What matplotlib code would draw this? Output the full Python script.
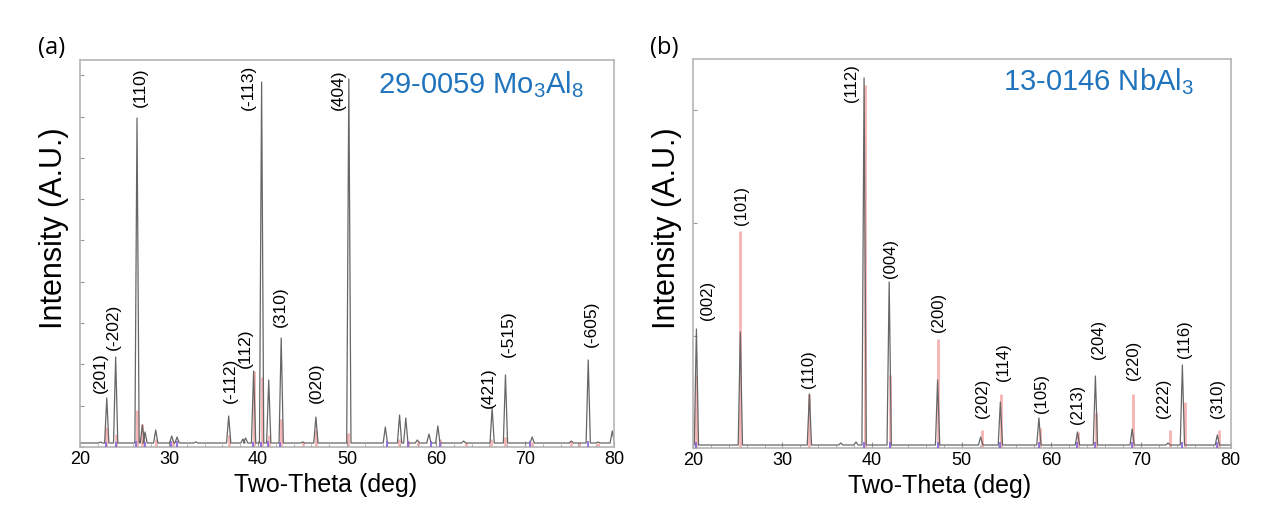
import numpy as np
import matplotlib
matplotlib.use('Agg')
import matplotlib.pyplot as plt
from matplotlib.ticker import MultipleLocator, NullFormatter

plt.rcParams['font.family'] = ['Liberation Sans', 'DejaVu Sans']
plt.rcParams['mathtext.fontset'] = 'custom'
plt.rcParams['mathtext.rm'] = 'Liberation Sans'
plt.rcParams['mathtext.it'] = 'Liberation Sans'

# ---- panel (a): Mo3Al8 -------------------------------------------------
a_peak_x = [22.3, 23.0, 24.0, 26.4, 27.0, 27.3, 28.5, 30.3, 30.9, 33.0, 36.7, 38.3, 38.6,
            39.5, 40.4, 41.2, 42.6, 45.0, 46.5, 50.2, 54.3, 55.9, 56.6, 57.9, 59.2, 60.2,
            63.1, 66.3, 67.8, 70.8, 75.2, 77.1, 78.2, 79.8]
a_peak_y = [5, 49, 90, 329, 22, 15, 17, 11, 10, 5, 31, 8, 9,
            76, 365, 67, 109, 5, 30, 368, 20, 32, 29, 7, 13, 21,
            6, 39, 72, 10, 6, 87, 5, 16]
a_base = 4

a_ref_x = [22.9, 24.0, 26.4, 27.0, 28.5, 30.4, 36.7, 39.5, 40.4, 41.2, 42.6, 45.0, 46.5,
           50.1, 55.8, 56.9, 58.0, 60.4, 63.4, 66.2, 67.8, 70.8, 75.2, 76.1, 78.2]
a_ref_y = [20, 13, 37, 23, 8, 6, 12, 76, 70, 12, 28, 5, 17,
           14, 8, 6, 5, 8, 5, 8, 10, 5, 6, 5, 4]
a_pur_x = [22.9, 24.0, 26.3, 27.3, 30.2, 30.9, 39.4, 40.3, 41.1, 42.5, 54.5, 56.8,
           59.4, 60.5, 70.6, 77.1]
a_pur_y = [5, 5, 6, 5, 6, 6, 5, 5, 6, 5, 6, 6, 6, 5, 6, 6]

a_labels = ['(201)', '(-202)', '(110)', '(-112)', '(112)', '(-113)', '(310)', '(020)',
            '(404)', '(421)', '(-515)', '(-605)']
a_lab_x = [22.25, 23.75, 26.75, 36.85, 38.55, 38.9, 42.5, 46.6, 49.0, 65.9, 68.1, 77.5]
a_lab_y = [54, 97, 340, 44, 79, 337, 120, 44, 337, 39, 90, 100]

# ---- panel (b): NbAl3 --------------------------------------------------
b_peak_x = [20.4, 25.3, 33.0, 36.5, 38.2, 39.1, 41.9, 47.3, 52.1, 54.3, 58.6, 62.9,
            64.9, 69.0, 73.0, 74.6, 78.5]
b_peak_y = [119, 116, 54, 5, 6, 370, 166, 68, 11, 46, 30, 16,
            72, 19, 5, 83, 13]
b_base = 3

b_ref_x = [20.4, 25.3, 33.0, 39.2, 42.0, 47.4, 52.2, 54.4, 58.7, 63.0, 65.0, 69.1,
           73.2, 74.9, 78.7]
b_ref_y = [73, 217, 54, 363, 73, 109, 18, 54, 20, 16, 35, 54, 18, 46, 18]
b_pur_x = [20.3, 39.1, 42.0, 47.3, 54.3, 58.6, 62.9, 64.9, 69.0, 74.6, 78.5]
b_pur_y = [6, 6, 6, 6, 6, 6, 6, 6, 6, 6, 6]

b_labels = ['(002)', '(101)', '(110)', '(112)', '(004)', '(200)', '(202)', '(114)',
            '(105)', '(213)', '(204)', '(220)', '(222)', '(116)', '(310)']
b_lab_x = [21.64, 25.4, 32.9, 37.7, 42.1, 47.35, 52.35, 54.6, 58.9, 62.95, 65.2,
           69.1, 72.45, 74.85, 78.55]
b_lab_y = [128, 223, 60, 346, 170, 116, 30, 67, 35, 24, 89, 68, 30, 90, 30]


def pattern(px, py, base, w):
    # polyline: baseline - apex - baseline for every peak
    xs = [20]
    ys = [base]
    for x, y in sorted(zip(px, py)):
        xs += [x - w, x, x + w]
        ys += [base, y, base]
    xs.append(80)
    ys.append(base)
    return xs, ys


def panel(ax, px, py, base, rx, ry, ux, uy, labs, lx, ly, ymax, ystep, title, tx, ty, lfs):
    ax.vlines(rx, 0, ry, color='#f4a0a0', lw=2.0, alpha=0.8, zorder=1)
    xs, ys = pattern(px, py, base, 0.24)
    ax.plot(xs, ys, color='#666666', lw=0.9, zorder=2)
    ax.vlines(ux, 0, uy, color='#8a6ad8', lw=1.3, zorder=3)
    for t, x, y in zip(labs, lx, ly):
        ax.text(x, y, t, rotation=90, ha='center', va='bottom', fontsize=lfs)
    ax.text(tx, ty, title, transform=ax.transAxes, color='#1f74bd', fontsize=21,
            ha='left', va='baseline')
    ax.set_xlim(20, 80)
    ax.set_ylim(0, ymax)
    ax.xaxis.set_major_locator(MultipleLocator(10))
    ax.xaxis.set_minor_locator(MultipleLocator(2))
    ax.yaxis.set_major_locator(MultipleLocator(ystep))
    ax.yaxis.set_major_formatter(NullFormatter())
    ax.tick_params(axis='both', which='both', direction='in', color='#999999')
    ax.tick_params(axis='x', which='major', length=4, labelsize=13, pad=3)
    ax.tick_params(axis='x', which='minor', length=2.5)
    ax.tick_params(axis='y', which='major', length=3)
    for s in ax.spines.values():
        s.set_color('#b5b5b5')
        s.set_linewidth(1.2)
    ax.set_xlabel('Two-Theta (deg)', fontsize=18)
    ax.set_ylabel('Intensity (A.U.)', fontsize=22)
    ax.xaxis.set_label_coords(0.459, -0.067)
    ax.yaxis.set_label_coords(-0.02, 0.566)


fig = plt.figure(figsize=(12.83, 5.29), dpi=100)
ax1 = fig.add_axes([0.0624, 0.155, 0.4162, 0.7316])
ax2 = fig.add_axes([0.540, 0.1531, 0.4193, 0.7354])

panel(ax1, a_peak_x, a_peak_y, a_base, a_ref_x, a_ref_y, a_pur_x, a_pur_y,
      a_labels, a_lab_x, a_lab_y, 387, 41.3, r'29-0059 Mo$_3$Al$_8$', 0.558, 0.915, 12.5)
panel(ax2, b_peak_x, b_peak_y, b_base, b_ref_x, b_ref_y, b_pur_x, b_pur_y,
      b_labels, b_lab_x, b_lab_y, 389, 112.5, r'13-0146 NbAl$_3$', 0.576, 0.920, 12)

fig.text(38 / 1283, 1 - 48 / 529, '(a)', fontsize=17, va='center', ha='left',
         family=['Open Sans', 'DejaVu Sans'])
fig.text(650 / 1283, 1 - 48 / 529, '(b)', fontsize=17, va='center', ha='left',
         family=['Open Sans', 'DejaVu Sans'])

fig.savefig('out.png', dpi=100)
